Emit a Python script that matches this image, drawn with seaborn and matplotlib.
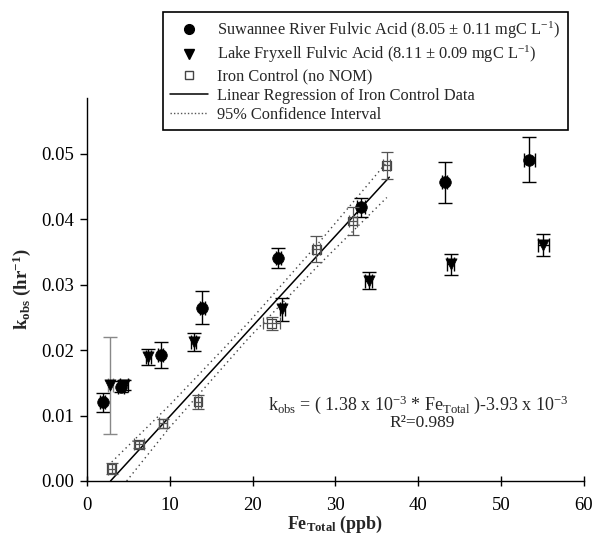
import matplotlib
matplotlib.use("Agg")
import matplotlib.pyplot as plt
import seaborn as sns
import pandas as pd
import numpy as np
from matplotlib.lines import Line2D

# ---------------- data ----------------
srfa_x = [1.9, 4.1, 8.9, 13.9, 23.1, 33.1, 43.2, 53.4]
srfa_y = [0.0120, 0.0144, 0.0193, 0.0265, 0.0341, 0.0418, 0.0456, 0.0491]
srfa_yerr = [0.0014, 0.0008, 0.0020, 0.0025, 0.0015, 0.0015, 0.0031, 0.0035]
srfa_xerr = [0.3, 0.4, 0.3, 0.3, 0.3, 0.5, 0.3, 0.7]

lffa_x = [2.8, 4.5, 7.4, 12.9, 23.6, 34.0, 43.9, 55.1]
lffa_y = [0.0146, 0.0147, 0.0189, 0.0212, 0.0262, 0.0306, 0.0331, 0.0360]
lffa_yerr = [0.0074, 0.0008, 0.0012, 0.0014, 0.0017, 0.0013, 0.0016, 0.0017]
lffa_xerr = [0.3, 0.5, 0.3, 0.3, 0.3, 0.4, 0.4, 0.7]

fe_x = [3.0, 6.3, 9.2, 13.4, 22.3, 27.7, 32.1, 36.2]
fe_y = [0.0019, 0.0056, 0.0088, 0.0121, 0.0241, 0.0354, 0.0397, 0.0482]
fe_yerr = [0.0009, 0.0005, 0.0007, 0.0011, 0.0010, 0.0020, 0.0022, 0.0020]
fe_xerr = [0.4, 0.6, 0.5, 0.4, 1.0, 0.4, 0.5, 0.4]

reg_x = [2.85, 36.5]
reg_y = [0.0, 0.0464]
ci_up_x = [3.0, 10.0, 19.5, 28.0, 36.2]
ci_up_y = [0.0029, 0.0116, 0.0242, 0.0364, 0.0487]
ci_lo_x = [4.8, 10.0, 19.5, 28.0, 36.2]
ci_lo_y = [0.0, 0.0082, 0.0218, 0.0330, 0.0433]

x_ticks = [0, 10, 20, 30, 40, 50, 60]
y_ticks = [0.00, 0.01, 0.02, 0.03, 0.04, 0.05]

labels = [
    "Suwannee River Fulvic Acid (8.05 ± 0.11 mgC L$^{\\mathregular{-1}}$)",
    "Lake Fryxell Fulvic Acid (8.11 ± 0.09 mgC L$^{\\mathregular{-1}}$)",
    "Iron Control (no NOM)",
    "Linear Regression of Iron Control Data",
    "95% Confidence Interval",
]

# ---------------- style ----------------
sns.set_theme(style="ticks")
plt.rcParams["font.family"] = ["Liberation Serif", "DejaVu Serif"]
plt.rcParams["mathtext.fontset"] = "custom"
plt.rcParams["mathtext.rm"] = "Liberation Serif"
plt.rcParams["mathtext.it"] = "Liberation Serif"
plt.rcParams["mathtext.bf"] = "Liberation Serif:bold"

fig = plt.figure(figsize=(5.95, 5.37), dpi=100)
ax = fig.add_axes([0.146, 0.1043, 0.8355, 0.7132])

# error bars
ax.errorbar(srfa_x, srfa_y, yerr=srfa_yerr, xerr=srfa_xerr, fmt="none",
            ecolor="black", elinewidth=1, capsize=5, capthick=1, zorder=2)
ax.errorbar(lffa_x[1:], lffa_y[1:], yerr=lffa_yerr[1:], xerr=lffa_xerr[1:], fmt="none",
            ecolor="black", elinewidth=1, capsize=5, capthick=1, zorder=2)
ax.errorbar(lffa_x[:1], lffa_y[:1], yerr=lffa_yerr[:1], xerr=lffa_xerr[:1], fmt="none",
            ecolor="#888888", elinewidth=1, capsize=5, capthick=1, zorder=2)
ax.errorbar(fe_x, fe_y, yerr=fe_yerr, xerr=fe_xerr, fmt="none",
            ecolor="#555555", elinewidth=0.9, capsize=4, capthick=0.9, zorder=4)

# regression & CI
ax.plot(reg_x, reg_y, color="black", lw=1.1, zorder=1)
ax.plot(ci_up_x, ci_up_y, color="#444444", lw=1.0, ls=(0, (1, 2.5)), zorder=1)
ax.plot(ci_lo_x, ci_lo_y, color="#444444", lw=1.0, ls=(0, (1, 2.5)), zorder=1)

# markers
sns.scatterplot(x=srfa_x, y=srfa_y, ax=ax, marker="o", s=70, color="black",
                edgecolor="black", linewidth=0.5, zorder=3)
sns.scatterplot(x=lffa_x, y=lffa_y, ax=ax, marker="v", s=65, color="black",
                edgecolor="black", linewidth=0.5, zorder=3)
sns.scatterplot(x=fe_x, y=fe_y, ax=ax, marker="s", s=40, facecolor="none",
                edgecolor="#444444", linewidth=0.9, zorder=3)

ax.set_xlim(0, 60)
ax.set_ylim(0, 0.0585)
ax.set_xticks(x_ticks)
ax.set_xticklabels([str(t) for t in x_ticks])
ax.set_yticks(y_ticks)
ax.set_yticklabels([f"{t:.2f}" for t in y_ticks])
for s in ["top", "right"]:
    ax.spines[s].set_visible(False)
for s in ["left", "bottom"]:
    ax.spines[s].set_linewidth(1.0)
    ax.spines[s].set_color("black")
ax.tick_params(axis="x", direction="inout", length=7, width=1, labelsize=13.5, pad=8, colors="black")
ax.tick_params(axis="y", direction="out", length=5, width=1, labelsize=13.5, pad=4, colors="black")

ax.set_xlabel("Fe$_{\\mathbf{Total}}$ (ppb)", fontsize=13, fontweight="bold", labelpad=0)
ax.set_ylabel("$\\mathbf{k_{obs}}$ (hr$^{\\mathbf{-1}}$)", fontsize=13.5, fontweight="bold", labelpad=6)

ax.text(0.666, 0.198,
        "k$_{\\mathregular{obs}}$ = ( 1.38 x 10$^{\\mathregular{-3}}$ * Fe$_{\\mathregular{Total}}$ )-3.93 x 10$^{\\mathregular{-3}}$",
        transform=ax.transAxes, ha="center", va="center", fontsize=13)
ax.text(0.674, 0.151, "R²=0.989", transform=ax.transAxes, ha="center", va="center", fontsize=12.5)

# legend
handles = [
    Line2D([], [], marker="o", ls="none", color="black", markersize=7),
    Line2D([], [], marker="v", ls="none", color="black", markersize=7),
    Line2D([], [], marker="s", ls="none", markerfacecolor="white", markeredgecolor="#444444", markersize=5.5),
    Line2D([], [], color="black", lw=1.1),
    Line2D([], [], color="#555555", lw=1.0, ls=(0, (1, 1.5))),
]
leg = fig.legend(handles, labels, loc="upper left", bbox_to_anchor=(163 / 595, 1 - 12 / 537),
                 frameon=True, fancybox=False, edgecolor="black", framealpha=1,
                 fontsize=11.8, handlelength=2.3, handletextpad=0.55, borderpad=0.45,
                 borderaxespad=0, labelspacing=0.2)
leg.get_frame().set_linewidth(1.2)

fig.savefig("out.png", dpi=100)
